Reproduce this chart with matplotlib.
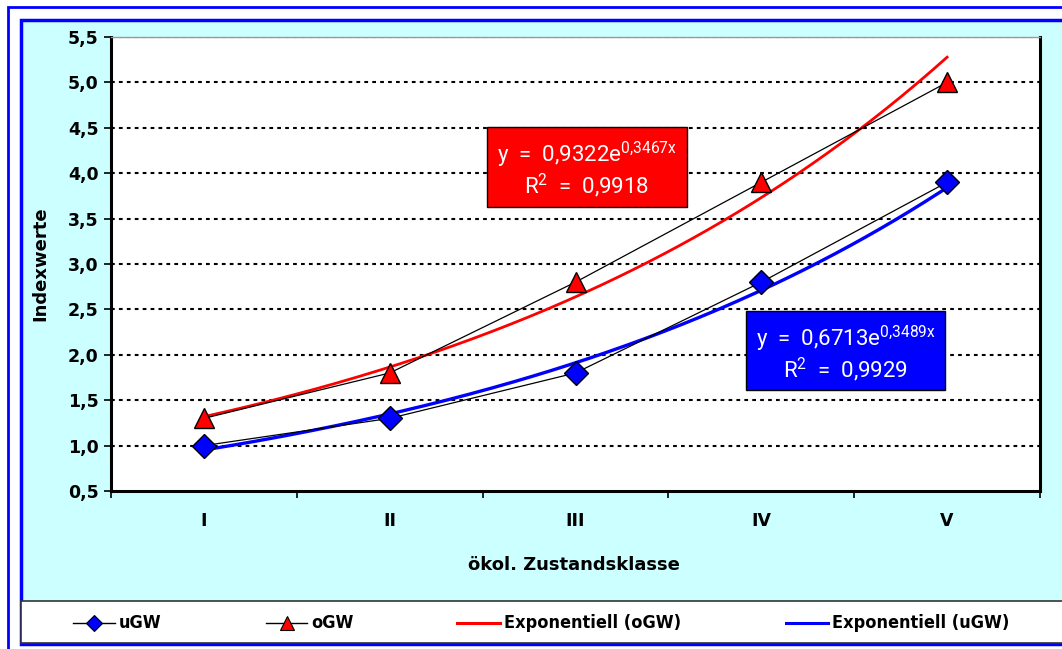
import numpy as np
import matplotlib
matplotlib.use("Agg")
import matplotlib.pyplot as plt
from matplotlib.patches import Rectangle
from matplotlib.lines import Line2D
from matplotlib.ticker import FuncFormatter

plt.rcParams['font.family'] = ['DejaVu Sans']
plt.rcParams['mathtext.fontset'] = 'custom'
plt.rcParams['mathtext.rm'] = 'Roboto'
plt.rcParams['mathtext.it'] = 'Roboto'

klassen = ['I', 'II', 'III', 'IV', 'V']
ugw = [1.0, 1.3, 1.8, 2.8, 3.9]
ogw = [1.3, 1.8, 2.8, 3.9, 5.0]
y_ticks = [0.5, 1.0, 1.5, 2.0, 2.5, 3.0, 3.5, 4.0, 4.5, 5.0, 5.5]

W, H = 1062, 649
fig = plt.figure(figsize=(W / 100, H / 100), dpi=100)


def px(x, y, w, h):
    # pixel box (top-left origin) -> figure fraction
    return (x / W, 1 - (y + h) / H, w / W, h / H)


def box(x, y, w, h, **kw):
    r = px(x, y, w, h)
    fig.patches.append(Rectangle(r[:2], r[2], r[3], transform=fig.transFigure, **kw))


# frame: outer white with blue line, inner cyan area, legend strip
box(8, 7, 1100, 700, facecolor='white', edgecolor='#0000ff', lw=2, zorder=-3)
box(21, 20, 1100, 624, facecolor='#ccffff', edgecolor='#0000ff', lw=2.5, zorder=-2)
box(21, 601, 1100, 42, facecolor='white', edgecolor='#333333', lw=1.2, zorder=-1)

ax = fig.add_axes([111 / W, 1 - 491 / H, (1040 - 111) / W, (491 - 37) / H])
ax.set_facecolor('white')

x = np.arange(len(klassen)) + 1  # excel x for trendline
xpos = np.arange(len(klassen)) + 0.5

for yv in y_ticks[1:]:
    ax.axhline(yv, color='black', lw=1.5, ls=(0, (1.8, 2.0)), zorder=1)

# exponential trendlines from a log fit of the data
xs = np.linspace(1, 5, 200)
ko = np.polyfit(x, np.log(ogw), 1)
ku = np.polyfit(x, np.log(ugw), 1)
ax.plot(xs - 0.5, np.exp(ko[1]) * np.exp(ko[0] * xs), color='#ff0000', lw=2, zorder=3)
ax.plot(xs - 0.5, np.exp(ku[1]) * np.exp(ku[0] * xs), color='#0000ff', lw=2.4, zorder=3)

ax.plot(xpos, ugw, color='black', lw=0.9, marker='D', ms=12, mfc='#0000ff', mec='black', mew=1, zorder=4)
ax.plot(xpos, ogw, color='black', lw=0.9, marker='^', ms=15, mfc='#ff0000', mec='black', mew=1, zorder=4)

ax.set_xlim(0, 5)
ax.set_ylim(0.5, 5.5)
ax.set_yticks(y_ticks)
ax.yaxis.set_major_formatter(FuncFormatter(lambda v, p: f'{v:.1f}'.replace('.', ',')))
ax.set_xticks(np.arange(6))
ax.set_xticklabels([])
ax.set_xticks(xpos, minor=True)
ax.set_xticklabels(klassen, minor=True)
ax.tick_params(axis='x', which='minor', length=0, pad=15)
ax.tick_params(axis='x', which='major', length=5, width=1.2, direction='out')
ax.tick_params(axis='y', length=5, width=1.2, direction='out', pad=4)
for lab in ax.get_yticklabels() + ax.get_xticklabels(minor=True):
    lab.set_fontweight('bold')
    lab.set_fontsize(12.5)

for s in ['left', 'bottom', 'right']:
    ax.spines[s].set_linewidth(2.2)
    ax.spines[s].set_color('black')
ax.spines['top'].set_color('#999999')
ax.spines['top'].set_linewidth(1)

fig.text(40 / W, 1 - 264 / H, 'Indexwerte', rotation=90, ha='center', va='center',
         fontsize=13, fontweight='bold')
fig.text(574 / W, 1 - 565 / H, 'ökol. Zustandsklasse', ha='center', va='center',
         fontsize=13, fontweight='bold')

# equation boxes
for (bx, by, bw, bh, col, a, k, r2) in [(487, 127, 200, 80, '#ff0000', '0,9322', '0{,}3467', '0,9918'),
                                         (746, 311, 199, 79, '#0000ff', '0,6713', '0{,}3489', '0,9929')]:
    box(bx, by, bw, bh, facecolor=col, edgecolor='black', lw=1, zorder=5)
    fig.text((bx + bw / 2) / W, 1 - (by + 28) / H, f'y  =  {a}e$^{{{k}x}}$',
             ha='center', va='center', color='white', fontsize=16, family='Roboto', zorder=6)
    fig.text((bx + bw / 2) / W, 1 - (by + 59) / H, f'R$^{{2}}$  =  {r2}',
             ha='center', va='center', color='white', fontsize=16, family='Roboto', zorder=6)

# legend drawn by hand
ly = 1 - 623 / H
items = [(73, 115, 'black', 'D', '#0000ff', 'uGW'),
         (266, 307, 'black', '^', '#ff0000', 'oGW'),
         (457, 500, '#ff0000', None, None, 'Exponentiell (oGW)'),
         (786, 828, '#0000ff', None, None, 'Exponentiell (uGW)')]
for (x0, x1, c, m, mf, name) in items:
    lw = 1 if m else 2.2
    fig.lines.append(Line2D([x0 / W, x1 / W], [ly, ly], transform=fig.transFigure, color=c, lw=lw))
    if m:
        fig.lines.append(Line2D([(x0 + x1) / 2 / W], [ly], transform=fig.transFigure, marker=m,
                                ms=8 if m == 'D' else 10, mfc=mf, mec='black', mew=0.8, ls='none'))
    fig.text((x1 + 4) / W, ly, name, ha='left', va='center', fontsize=13,
             fontweight='bold', fontstretch='condensed')

fig.savefig('out.png', dpi=100)
